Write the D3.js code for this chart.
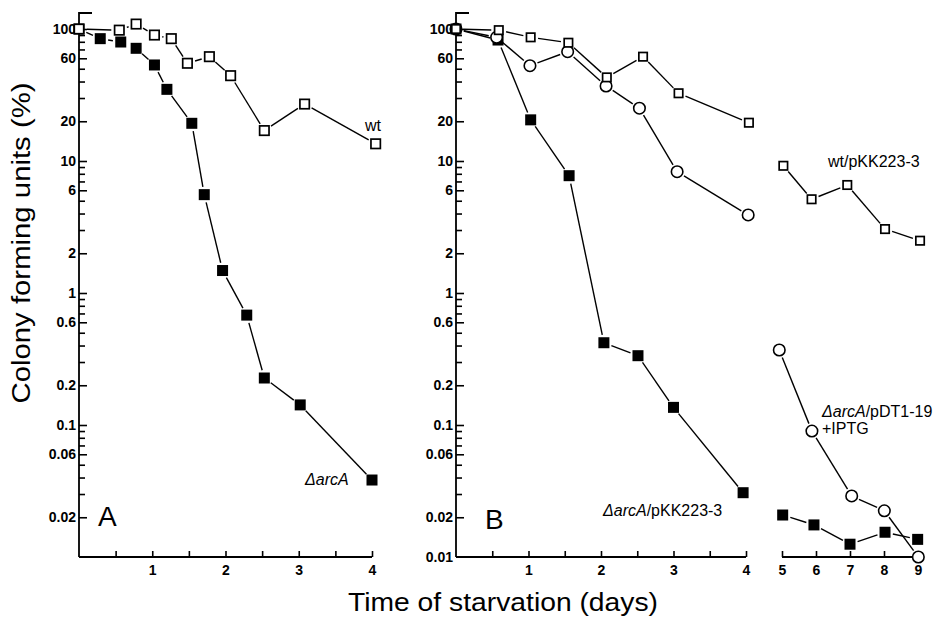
<!DOCTYPE html>
<html><head><meta charset="utf-8">
<script src="https://cdn.jsdelivr.net/npm/d3@7"></script>
<style>
html,body{margin:0;padding:0;background:#fff;}
svg{display:block;font-family:"Liberation Sans",Arial,Helvetica,sans-serif;}
</style></head>
<body>
<svg id="chart" width="936" height="622"></svg>
<script>
// ---- data (days, % CFU) ----
// Panel A
const aWtDays   = [0, 0.55, 0.78, 1.03, 1.26, 1.48, 1.78, 2.07, 2.53, 3.08, 4.05];
const aWtVals   = [100, 98, 109, 90, 84.5, 55, 61.7, 44.3, 17, 27, 13.5];
const aArcDays  = [0, 0.29, 0.57, 0.78, 1.03, 1.2, 1.54, 1.71, 1.96, 2.29, 2.53, 3.02, 4.0];
const aArcVals  = [100, 84.5, 79.7, 71.4, 53.4, 34.9, 19.3, 5.56, 1.48, 0.68, 0.227, 0.142, 0.0383];
// Panel B, days 0-4
const bWtDays1   = [0, 0.59, 1.03, 1.55, 2.08, 2.58, 3.07, 4.04];
const bWtVals1   = [100, 98, 86.5, 78.7, 43, 61.7, 32.6, 19.5];
const bPdtDays1  = [0, 0.56, 1.02, 1.54, 2.07, 2.53, 3.05, 4.03];
const bPdtVals1  = [100, 86.5, 52.7, 67.3, 37, 25.1, 8.3, 3.9];
const bArcDays1  = [0, 0.58, 1.03, 1.56, 2.04, 2.51, 3.0, 3.96];
const bArcVals1  = [100, 82.5, 20.5, 7.74, 0.42, 0.335, 0.136, 0.0307];
// Panel B, days 5-9
const bWtDays2   = [5.04, 5.87, 6.92, 8.03, 9.06];
const bWtVals2   = [9.2, 5.13, 6.58, 3.05, 2.49];
const bPdtDays2  = [4.92, 5.88, 7.05, 8.01, 9.01];
const bPdtVals2  = [0.37, 0.09, 0.029, 0.0224, 0.01];
const bArcDays2  = [5.02, 5.94, 7.0, 8.03, 8.99];
const bArcVals2  = [0.0208, 0.0175, 0.0125, 0.0154, 0.0136];
// tick labels
const yLabelsA = [100, 60, 20, 10, 6, 2, 1, 0.6, 0.2, 0.1, 0.06, 0.02];
const yLabelsB = [100, 60, 20, 10, 6, 2, 1, 0.6, 0.2, 0.1, 0.06, 0.02, 0.01];
const xTicks1 = [0.5, 1, 1.5, 2, 2.5, 3, 3.5, 4];
const xLabels1 = [1, 2, 3, 4];
const xTicks2 = [5, 6, 7, 8, 9];

const svg = d3.select("#chart");
const FONT = '"Liberation Sans",Arial,Helvetica,sans-serif';
const yBottom = 557, yTop = 13;
const y = d3.scaleLog().domain([0.01, 100]).range([557, 29]);

const xA  = d3.scaleLinear().domain([0, 4]).range([79, 372]);
const xB1 = d3.scaleLinear().domain([0, 4]).range([456, 746]);
const xB2 = d3.scaleLinear().domain([5, 9]).range([782, 918]);

const yMinor = [];
[0.01, 0.1, 1, 10].forEach(d => { for (let k = 1; k <= 9; k++) yMinor.push(+(k * d).toPrecision(3)); });
yMinor.push(100);

function fmt(v){ return String(v); }

function yAxis(ax, labels){
  const g = svg.append("g");
  const tv = yMinor.filter(v => !(v === 0.01));
  const minor = tv.filter(v => labels.indexOf(v) < 0);
  const major = tv.filter(v => labels.indexOf(v) >= 0);
  const gMinor = g.append("g").attr("transform", `translate(${ax},0)`)
    .call(d3.axisRight(y).tickValues(minor).tickSize(6).tickSizeOuter(0).tickFormat(""));
  const gMajor = g.append("g").attr("transform", `translate(${ax},0)`)
    .call(d3.axisRight(y).tickValues(major).tickSize(8).tickSizeOuter(0).tickFormat(""));
  [gMinor, gMajor].forEach(gg => {
    gg.select(".domain").remove();
    gg.selectAll("line").attr("stroke", "#000").attr("stroke-width", 1.6);
  });
  const gLab = g.append("g").attr("transform", `translate(${ax},0)`)
    .call(d3.axisLeft(y).tickValues(labels).tickSize(0).tickPadding(3).tickFormat(fmt));
  gLab.select(".domain").remove();
  gLab.selectAll("text").attr("font-family", FONT).attr("font-size", 14).attr("font-weight", "bold").attr("fill", "#000");
  g.append("path").attr("d", `M${ax},${yBottom}V${yTop}H${ax+13}`)
    .attr("fill", "none").attr("stroke", "#000").attr("stroke-width", 1.8);
}

function xAxis(xs, ticks, labels, x0){
  const g = svg.append("g").attr("transform", `translate(0,${yBottom})`);
  const gt = g.append("g").call(d3.axisTop(xs).tickValues(ticks).tickSize(6).tickSizeOuter(0).tickFormat(""));
  gt.select(".domain").remove();
  gt.selectAll("line").attr("stroke", "#000").attr("stroke-width", 1.6);
  const gl = g.append("g").call(d3.axisBottom(xs).tickValues(labels).tickSize(0).tickPadding(8).tickFormat(fmt));
  gl.select(".domain").remove();
  gl.selectAll("text").attr("font-family", FONT).attr("font-size", 14).attr("font-weight", "bold").attr("fill", "#000");
  g.append("line").attr("x1", x0).attr("x2", xs(ticks[ticks.length-1])).attr("y1", 0).attr("y2", 0)
    .attr("stroke", "#000").attr("stroke-width", 1.8);
}

function drawLines(xs, days, vals, gap){
  const pts = days.map((d, i) => [xs(d), y(vals[i])]);
  const g = svg.append("g");
  for (let i = 0; i < pts.length - 1; i++){
    const [x1, y1] = pts[i], [x2, y2] = pts[i+1];
    const dx = x2 - x1, dy = y2 - y1, L = Math.hypot(dx, dy);
    if (L <= 2 * gap + 1) continue;
    const ux = dx / L, uy = dy / L;
    g.append("line")
      .attr("x1", x1 + ux * gap).attr("y1", y1 + uy * gap)
      .attr("x2", x2 - ux * gap).attr("y2", y2 - uy * gap)
      .attr("stroke", "#000").attr("stroke-width", 1.4);
  }
}

function drawMarkers(xs, days, vals, kind, size){
  const g = svg.append("g");
  days.forEach((d, i) => {
    const cx = xs(d), cy = y(vals[i]);
    if (kind === "circle"){
      g.append("circle").attr("cx", cx).attr("cy", cy).attr("r", size/2)
        .attr("fill", "#fff").attr("stroke", "#000").attr("stroke-width", 1.6);
    } else {
      const filled = kind === "filled";
      const s = filled ? size : size - 1.6;
      g.append("rect").attr("x", cx - s/2).attr("y", cy - s/2).attr("width", s).attr("height", s)
        .attr("fill", filled ? "#000" : "#fff").attr("stroke", filled ? "none" : "#000")
        .attr("stroke-width", 1.7);
    }
  });
}

// axes
yAxis(xA(0), yLabelsA);
yAxis(xB1(0), yLabelsB);
xAxis(xA, xTicks1, xLabels1, xA(0));
xAxis(xB1, xTicks1, xLabels1, xB1(0));
xAxis(xB2, xTicks2, xTicks2, xB2(5));

// lines
drawLines(xA, aWtDays, aWtVals, 8);
drawLines(xA, aArcDays, aArcVals, 8);
drawLines(xB1, bWtDays1, bWtVals1, 7.5);
drawLines(xB1, bPdtDays1, bPdtVals1, 8);
drawLines(xB1, bArcDays1, bArcVals1, 8);
drawLines(xB2, bWtDays2, bWtVals2, 7.5);
drawLines(xB2, bPdtDays2, bPdtVals2, 8);
drawLines(xB2, bArcDays2, bArcVals2, 8);

// markers
drawMarkers(xA, aArcDays, aArcVals, "filled", 11);
drawMarkers(xA, aWtDays, aWtVals, "open", 11);
drawMarkers(xB1, bArcDays1, bArcVals1, "filled", 11);
drawMarkers(xB2, bArcDays2, bArcVals2, "filled", 11);
drawMarkers(xB1, bPdtDays1, bPdtVals1, "circle", 11.5);
drawMarkers(xB2, bPdtDays2, bPdtVals2, "circle", 11.5);
drawMarkers(xB1, bWtDays1, bWtVals1, "open", 10);
drawMarkers(xB2, bWtDays2, bWtVals2, "open", 10);

// annotations
function txt(x, yy, size, anchor){
  return svg.append("text").attr("x", x).attr("y", yy).attr("font-family", FONT)
    .attr("font-size", size).attr("text-anchor", anchor || "start").attr("fill", "#000");
}
txt(365, 131, 16).text("wt");
const t1 = txt(305, 485, 16); t1.append("tspan").attr("font-style", "italic").text("ΔarcA");
const t2 = txt(603, 516, 16); t2.append("tspan").attr("font-style", "italic").text("ΔarcA");
t2.append("tspan").text("/pKK223-3");
txt(828, 167, 16).text("wt/pKK223-3");
const t3 = txt(822, 416.5, 16); t3.append("tspan").attr("font-style", "italic").text("ΔarcA");
t3.append("tspan").text("/pDT1-19");
txt(822, 434, 16).text("+IPTG");
txt(98, 526, 28).text("A");
txt(485, 529, 28).text("B");

// axis titles
txt(503, 611, 26, "middle").attr("textLength", 310).attr("lengthAdjust", "spacingAndGlyphs").text("Time of starvation (days)");
txt(0, 0, 26, "middle").attr("transform", "translate(30,243) rotate(-90)")
  .attr("textLength", 321).attr("lengthAdjust", "spacingAndGlyphs").text("Colony forming units (%)");
</script>
</body></html>
